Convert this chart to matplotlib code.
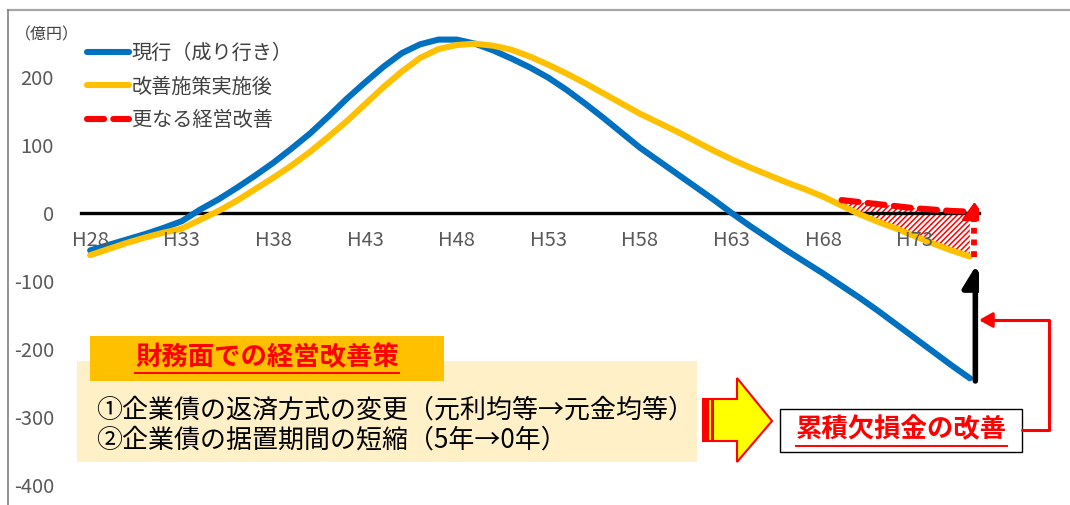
import matplotlib
matplotlib.use('Agg')
import matplotlib.pyplot as plt
from matplotlib.patches import Rectangle, Polygon, FancyArrowPatch
from matplotlib.lines import Line2D
from matplotlib.path import Path

plt.rcParams['font.family'] = ['Noto Sans CJK JP', 'DejaVu Sans']
plt.rcParams['hatch.linewidth'] = 1.1

# ---------------- data ----------------
years = list(range(28, 77))  # H28 .. H76
current = [-55, -47, -39, -31, -22, -12, 5, 20, 37, 55, 74, 95, 117, 142, 168, 192,
           215, 235, 248, 255, 255, 249, 239, 227, 214, 199, 181, 161, 140, 118, 96,
           77, 58, 39, 20, 0, -19, -37, -55, -72, -89, -107, -125, -144, -164, -184,
           -204, -224, -243]
improved = [-62, -53, -44, -36, -29, -23, -10, 3, 18, 35, 52, 70, 90, 112, 135, 160,
            185, 208, 228, 241, 247, 249, 246, 240, 230, 218, 205, 191, 176, 161, 146,
            133, 120, 106, 92, 79, 67, 56, 45, 35, 24, 11, -2, -13, -23, -34, -45, -55,
            -64]
further_years = [69, 70, 71, 72, 73, 74, 75, 76]
further = [19, 16, 13, 10, 7, 5, 3, 2]
tick_years = [28, 33, 38, 43, 48, 53, 58, 63, 68, 73]
tick_labels = ['H28', 'H33', 'H38', 'H43', 'H48', 'H53', 'H58', 'H63', 'H68', 'H73']
y_ticks = [200, 100, 0, -100, -200, -300, -400]

series_names = ['現行（成り行き）', '改善施策実施後', '更なる経営改善']
unit_label = '（億円）'
box_title = '財務面での経営改善策'
box_lines = ['①企業債の返済方式の変更（元利均等→元金均等）',
             '②企業債の据置期間の短縮（5年→0年）']
result_label = '累積欠損金の改善'

BLUE = '#0070C0'
YELLOW = '#FFC000'
RED = '#FF0000'
GRAY = '#595959'

W, H = 1070, 505
fig = plt.figure(figsize=(W / 100, H / 100), dpi=100)


def fx(x):
    return x / W


def fy(y):
    return 1 - y / H


ax = fig.add_axes([fx(81), fy(485), (979 - 81) / W, (485 - 9) / H])
ax.set_xlim(27.5, 76.5)
ax.set_ylim(-400, 300)

for s in ['left', 'top', 'right']:
    ax.spines[s].set_visible(False)
ax.spines['bottom'].set_position(('data', 0))
ax.spines['bottom'].set_linewidth(2.4)
ax.spines['bottom'].set_color('black')
ax.set_xticks(tick_years)
ax.set_xticklabels(tick_labels)
ax.set_yticks(y_ticks)
ax.set_yticklabels([str(v) for v in y_ticks])
ax.tick_params(axis='x', length=0, pad=12, labelsize=14.5, labelcolor=GRAY)
ax.tick_params(axis='y', length=0, pad=19.5, labelsize=14.5, labelcolor=GRAY)
ax.xaxis.set_zorder(5)

# hatched gap
n_f = len(further_years)
ax.fill_between(further_years, further, improved[-n_f:],
                facecolor='none', edgecolor=RED, hatch='//////', linewidth=0, zorder=1)

l1, = ax.plot(years, current, color=BLUE, lw=4.4, solid_capstyle='round', zorder=3)
l2, = ax.plot(years, improved, color=YELLOW, lw=4.4, solid_capstyle='round', zorder=3)
l3, = ax.plot(further_years, further, color=RED, lw=4.4, dashes=(2.8, 1.5),
              dash_capstyle='round', zorder=3.2)

# red dotted arrow (improvement)
ax.plot([76.25, 76.25], [improved[-1], -2], color=RED, lw=4.2,
        linestyle=(0, (1, 1)), dash_capstyle='butt', zorder=4)
ax.add_patch(FancyArrowPatch((76.25, -4), (76.25, 16),
                             arrowstyle='-|>,head_length=11,head_width=8',
                             mutation_scale=1, color=RED, lw=2.0,
                             shrinkA=0, shrinkB=0, zorder=4))
# black arrow
ax.add_patch(FancyArrowPatch((76.3, current[-1] - 4), (76.3, -79),
                             arrowstyle='-|>,head_length=13,head_width=8',
                             mutation_scale=1, color='black', lw=4.0,
                             shrinkA=0, shrinkB=0, zorder=4))

# legend
leg = ax.legend([l1, l2, l3], series_names, loc='upper left',
                bbox_to_anchor=(fx(87), fy(43)), bbox_transform=fig.transFigure,
                frameon=False, fontsize=14.5, handlelength=2.1, handletextpad=0.12,
                labelspacing=0.62, borderpad=0, borderaxespad=0)
for t in leg.get_texts():
    t.set_color('#404040')

fig.text(fx(15), fy(35), unit_label, fontsize=11.5, color='#404040', va='center', ha='left')

# frame lines of the slide
fig.add_artist(Line2D([fx(8), fx(1070)], [fy(10), fy(10)], color='#A6A6A6', lw=1.6))
fig.add_artist(Line2D([fx(8), fx(8)], [fy(10), fy(505)], color='#808080', lw=1.2))

# text boxes
fig.add_artist(Rectangle((fx(77), fy(462)), (697 - 77) / W, (462 - 361) / H,
                         transform=fig.transFigure, facecolor='#FFF0C8', edgecolor='none'))
fig.add_artist(Rectangle((fx(90), fy(381)), (444 - 90) / W, (381 - 336) / H,
                         transform=fig.transFigure, facecolor=YELLOW, edgecolor='none'))
t_title = fig.text(fx(267), fy(358), box_title, fontsize=19, fontweight='bold', color=RED,
                   ha='center', va='center')
fig.text(fx(96), fy(410), box_lines[0], fontsize=18.7, color='black', ha='left', va='center')
fig.text(fx(96), fy(440), box_lines[1], fontsize=18.7, color='black', ha='left', va='center')

# block arrow
pts = [(703, 399), (737, 399), (737, 378), (772, 421), (737, 462), (737, 441), (703, 441)]
fig.add_artist(Polygon([(fx(x), fy(y)) for x, y in pts], closed=True,
                       transform=fig.transFigure, facecolor='#FFFF00', edgecolor=RED, lw=1.5))
fig.add_artist(Rectangle((fx(703), fy(441)), 5.5 / W, 42 / H, transform=fig.transFigure,
                         facecolor=RED, edgecolor='none'))
fig.add_artist(Rectangle((fx(710.5), fy(441)), 3.5 / W, 42 / H, transform=fig.transFigure,
                         facecolor=RED, edgecolor='none'))

# result box
fig.add_artist(Rectangle((fx(780), fy(452)), (1022 - 780) / W, (452 - 409) / H,
                         transform=fig.transFigure, facecolor='white', edgecolor='black', lw=1.0))
t_res = fig.text(fx(901), fy(430), result_label, fontsize=19, fontweight='bold', color=RED,
                 ha='center', va='center')

# red elbow connector
conn = Path([(fx(1022), fy(430)), (fx(1049), fy(430)), (fx(1049), fy(320)), (fx(979), fy(320))],
            [Path.MOVETO, Path.LINETO, Path.LINETO, Path.LINETO])
fig.add_artist(FancyArrowPatch(path=conn, arrowstyle='-|>,head_length=8,head_width=4.5',
                               mutation_scale=1, color=RED, lw=2.2,
                               transform=fig.transFigure))

# underlines
fig.canvas.draw()
r = fig.canvas.get_renderer()
for t, yy in [(t_title, 373), (t_res, 446)]:
    bb = t.get_window_extent(r)
    fig.add_artist(Line2D([bb.x0 / W, bb.x1 / W], [fy(yy), fy(yy)], color=RED, lw=1.4))

fig.savefig('out.png', dpi=100)
